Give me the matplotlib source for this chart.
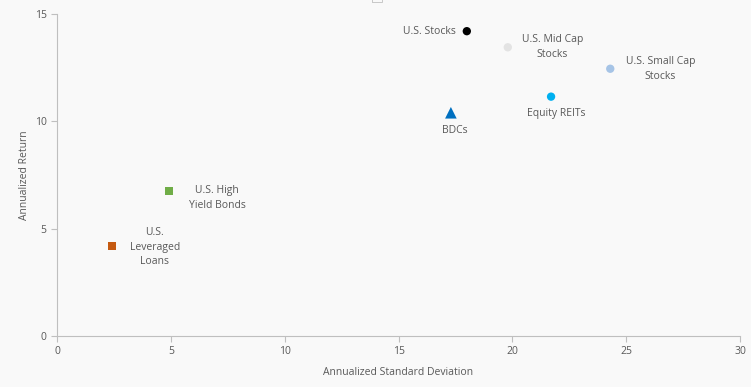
import matplotlib.pyplot as plt
from matplotlib.patches import Rectangle

# data
names = ["U.S. Stocks", "U.S. Mid Cap\nStocks", "U.S. Small Cap\nStocks", "Equity REITs",
         "BDCs", "U.S. High\nYield Bonds", "U.S.\nLeveraged\nLoans"]
std_dev = [18.0, 19.8, 24.3, 21.7, 17.3, 4.9, 2.4]
returns = [14.2, 13.45, 12.45, 11.15, 10.4, 6.75, 4.2]
colors = ["#000000", "#e3e3e3", "#a6c4e6", "#00b0f0", "#0070c0", "#70ad47", "#c55a11"]
markers = ["o", "o", "o", "o", "^", "s", "s"]
sizes = [36, 36, 36, 36, 70, 34, 34]
# label offsets (points) and alignment
offsets = [(-8, 0), (32, 0), (36, 0), (4, -12), (3, -13), (35, -5), (31, -1)]
aligns = ["right", "center", "center", "center", "center", "center", "center"]

xticks = [0, 5, 10, 15, 20, 25, 30]
yticks = [0, 5, 10, 15]

TXT = "#595959"
AX = "#bfbfbf"
BG = "#f9f9f9"

plt.rcParams['font.family'] = ['Open Sans', 'DejaVu Sans']

fig = plt.figure(figsize=(7.51, 3.87), dpi=100, facecolor=BG)
ax = fig.add_axes([0.0759, 0.1318, 0.9095, 0.832])
ax.set_facecolor(BG)

for i in range(len(names)):
    ax.scatter(std_dev[i], returns[i], s=sizes[i], marker=markers[i], color=colors[i],
               edgecolors="none", zorder=3)
    ax.annotate(names[i], (std_dev[i], returns[i]), xytext=offsets[i], textcoords="offset points",
                ha=aligns[i], va="center", fontsize=7.5, color=TXT, linespacing=1.45)

ax.set_xlim(0, 30)
ax.set_ylim(0, 15)
ax.set_xticks(xticks)
ax.set_yticks(yticks)
ax.tick_params(colors=AX, labelcolor=TXT, labelsize=7.5, length=4, width=0.8)
for s in ["top", "right"]:
    ax.spines[s].set_visible(False)
for s in ["left", "bottom"]:
    ax.spines[s].set_color(AX)
    ax.spines[s].set_linewidth(0.8)

ax.set_xlabel("Annualized Standard Deviation", fontsize=7.5, color=TXT, labelpad=7)
ax.set_ylabel("Annualized Return", fontsize=7.5, color=TXT, labelpad=3)

# small clipped legend box at the top edge
fig.patches.append(Rectangle((372 / 751, 1 - 2 / 387), 10 / 751, 4 / 387, transform=fig.transFigure,
                             fill=False, edgecolor="#c8c8c8", linewidth=0.7))

fig.savefig("out.png", dpi=100, facecolor=BG)
